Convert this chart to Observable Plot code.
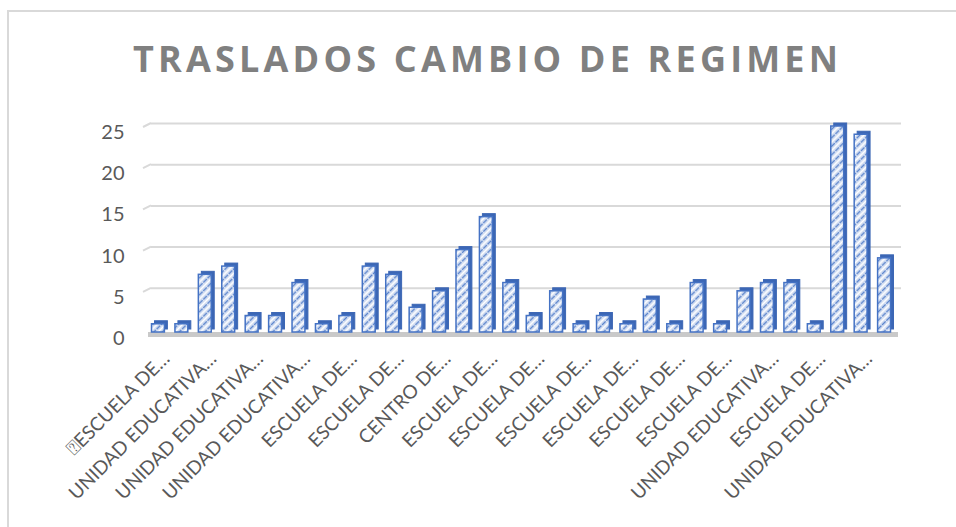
<!DOCTYPE html>
<html>
<head>
<meta charset="utf-8">
<script src="https://cdn.jsdelivr.net/npm/d3@7"></script>
<script src="https://cdn.jsdelivr.net/npm/@observablehq/plot@0.6"></script>
<style>
  html, body { margin: 0; padding: 0; background: #fff; }
  #wrap { position: relative; width: 956px; height: 527px; overflow: hidden; background: #fff; }
  #frame { position: absolute; left: 7px; top: 10px; right: -5px; bottom: -5px;
           border-left: 2px solid #d9d9d9; border-top: 2px solid #d9d9d9; }
  #chart { position: absolute; left: 0; top: 0; }
  #title { position: absolute; left: 0; top: 0; }
</style>
</head>
<body>
<div id="wrap">
  <div id="frame"></div>
  <div id="chart"></div>
  <svg id="title" width="956" height="100"></svg>
</div>
<script>
const title = "TRASLADOS CAMBIO DE REGIMEN";
// bar values, in order (32 schools)
const values = [1, 1, 7, 8, 2, 2, 6, 1, 2, 8, 7, 3, 5, 10, 14, 6, 2, 5, 1, 2, 1, 4, 1, 6, 1, 5, 6, 6, 1, 25, 24, 9];
// visible (truncated) category labels, shown on every other bar
const tickLabels = [
  "\u2370ESCUELA DE…", "UNIDAD EDUCATIVA…", "UNIDAD EDUCATIVA…", "UNIDAD EDUCATIVA…",
  "ESCUELA DE…", "ESCUELA DE…", "CENTRO DE…", "ESCUELA DE…",
  "ESCUELA DE…", "ESCUELA DE…", "ESCUELA DE…", "ESCUELA DE…",
  "ESCUELA DE…", "UNIDAD EDUCATIVA…", "ESCUELA DE…", "UNIDAD EDUCATIVA…"
];
const yTicks = [0, 5, 10, 15, 20, 25];

const data = values.map((v, i) => ({ idx: i + 1, value: v }));
const labelData = tickLabels.map((t, j) => ({ idx: 2 * j + 1, label: t }));
const domain = data.map(d => d.idx);

const font = "Lato, 'Open Sans', sans-serif";
const ns = "http://www.w3.org/2000/svg";

// small slanted segments of the gridlines on the chart's left wall
function wallSlants(index, scales, values, dimensions) {
  const g = document.createElementNS(ns, "g");
  const x0 = dimensions.marginLeft;
  for (const t of yTicks.filter(t => t > 0)) {
    const y = scales.y(t);
    const l = document.createElementNS(ns, "line");
    l.setAttribute("x1", x0 - 3); l.setAttribute("y1", y + 1);
    l.setAttribute("x2", x0 + 5); l.setAttribute("y2", y - 3);
    l.setAttribute("stroke", "#d9d9d9"); l.setAttribute("stroke-width", 2);
    g.appendChild(l);
  }
  return g;
}

const plot = Plot.plot({
  width: 956,
  height: 527,
  marginLeft: 146,
  marginRight: 60,
  marginTop: 126,
  marginBottom: 195,
  style: { fontFamily: font, background: "transparent", overflow: "visible" },
  x: { type: "band", domain, paddingInner: 0.45, paddingOuter: 0.235, round: false, axis: null },
  y: { domain: [0, 25], axis: null },
  marks: [
    // back-wall gridlines
    Plot.ruleY(yTicks.filter(t => t > 0), { stroke: "#d9d9d9", strokeWidth: 2, dx: 5, dy: -3 }),
    wallSlants,
    // floor
    Plot.ruleY([0], { stroke: "#c9c9c9", strokeWidth: 5, dy: 2, dx: 2 }),
    // y tick labels
    Plot.text(yTicks, {
      y: d => d, text: d => String(d), frameAnchor: "left", textAnchor: "end",
      dx: -22, dy: 6, fontSize: 20, fill: "#595959"
    }),
    // bar depth (side and top faces)
    Plot.barY(data, { x: "idx", y: "value", fill: "#3c67b5", stroke: "#3c67b5", strokeWidth: 1, dx: 3, dy: -3 }),
    // bar front faces
    Plot.barY(data, { x: "idx", y: "value", fill: "url(#hatch)", stroke: "#4472c4", strokeWidth: 1.5 }),
    // category labels
    Plot.text(labelData, {
      x: "idx", text: "label", frameAnchor: "bottom", rotate: -45,
      textAnchor: "end", lineAnchor: "middle", dx: 8, dy: 23,
      fontSize: 19, fill: "#595959"
    })
  ]
});

// add hatch pattern definition
const defs = document.createElementNS(ns, "defs");
defs.innerHTML = `
  <pattern id="hatch" patternUnits="userSpaceOnUse" width="6" height="6" patternTransform="rotate(-45)">
    <rect width="6" height="6" fill="#dbe4f4"></rect>
    <line x1="0" y1="1.5" x2="6" y2="1.5" stroke="#5b84cc" stroke-width="1.6" stroke-dasharray="3 1"></line>
    <line x1="0" y1="4.5" x2="6" y2="4.5" stroke="#ffffff" stroke-width="1.2"></line>
  </pattern>`;
plot.insertBefore(defs, plot.firstChild);
document.getElementById("chart").appendChild(plot);

// title
const t = document.createElementNS(ns, "text");
t.setAttribute("x", 133);
t.setAttribute("y", 72);
t.setAttribute("textLength", 705);
t.setAttribute("lengthAdjust", "spacing");
t.setAttribute("font-family", "'Open Sans', Lato, sans-serif");
t.setAttribute("font-weight", "bold");
t.setAttribute("font-size", 36);
t.setAttribute("fill", "#808080");
t.textContent = title;
document.getElementById("title").appendChild(t);
</script>
</body>
</html>
